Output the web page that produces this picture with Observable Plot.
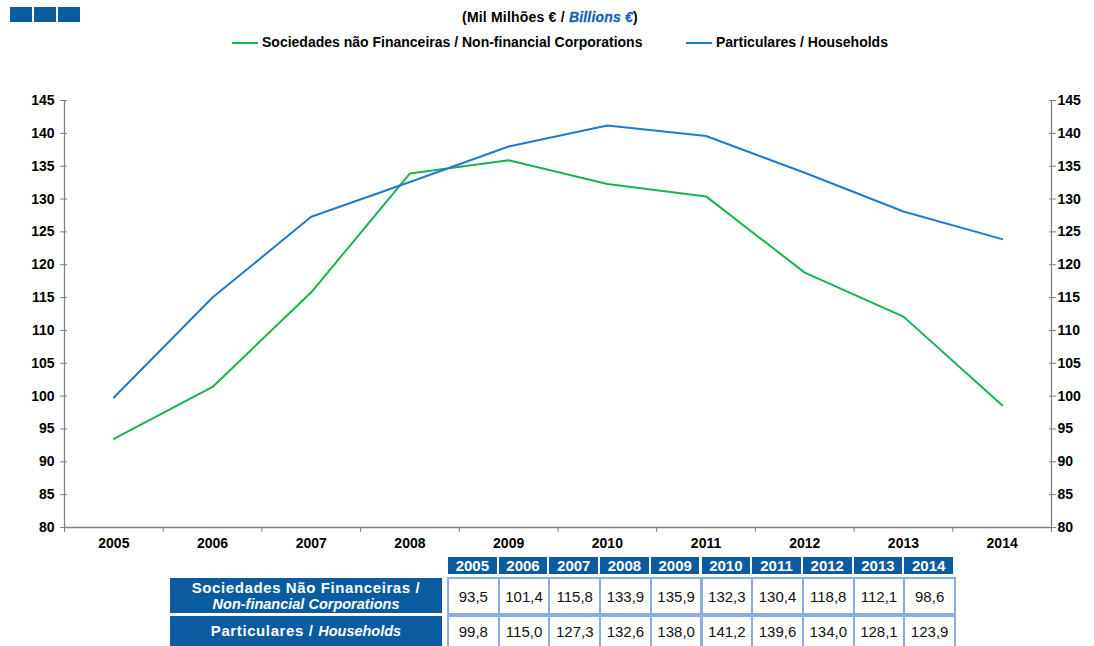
<!DOCTYPE html>
<html><head><meta charset="utf-8">
<script src="https://cdn.jsdelivr.net/npm/d3@7"></script>
<script src="https://cdn.jsdelivr.net/npm/@observablehq/plot@0.6"></script>
<style>
body{margin:0;background:#fff;font-family:"Liberation Sans",Arial,sans-serif;}
#wrap{position:relative;width:1094px;height:646px;overflow:hidden;}
.abs{position:absolute;}
.sq{position:absolute;top:7px;width:22px;height:15px;background:#0b5ba0;}
#title{left:0;width:1100px;top:9px;text-align:center;font-weight:bold;font-size:14px;letter-spacing:0.2px;}
#title .bl{font-style:italic;color:#1763b0;-webkit-text-stroke:0.3px #1763b0;}
.leg{top:34px;font-weight:bold;font-size:14px;white-space:nowrap;}
.legline{position:absolute;top:42px;width:26px;height:2px;}
.cell{position:absolute;box-sizing:border-box;display:flex;align-items:center;justify-content:center;text-align:center;}
.hdr{background:#0b5ba0;color:#fff;font-weight:bold;font-size:15px;}
.lab{background:#0b5ba0;color:#fff;font-weight:bold;font-size:15px;line-height:17px;flex-direction:column;letter-spacing:0.6px;}
.dat{background:#fff;color:#111;font-size:15px;border:2px solid #8aafe0;}
</style></head>
<body><div id="wrap"></div>
<script>
const years = [2005, 2006, 2007, 2008, 2009, 2010, 2011, 2012, 2013, 2014];
const nfc = [93.5, 101.4, 115.8, 133.9, 135.9, 132.3, 130.4, 118.8, 112.1, 98.6];
const households = [99.8, 115.0, 127.3, 132.6, 138.0, 141.2, 139.6, 134.0, 128.1, 123.9];
const seriesNames = ["Sociedades não Financeiras / Non-financial Corporations", "Particulares / Households"];
const seriesColors = ["#17b34f", "#1f7bc9"];
const yTicks = [80, 85, 90, 95, 100, 105, 110, 115, 120, 125, 130, 135, 140, 145];
const tableLabels = [["Sociedades Não Financeiras /", "Non-financial Corporations"], ["Particulares / ", "Households"]];
const fmt = v => v.toFixed(1).replace(".", ",");

const wrap = document.getElementById("wrap");
const data = [];
years.forEach((y, i) => {
  data.push({year: y, value: nfc[i], series: seriesNames[0]});
  data.push({year: y, value: households[i], series: seriesNames[1]});
});
const edges = years.map(y => y - 0.5).concat([years[years.length - 1] + 0.5]);
const xDomain = [edges[0], edges[edges.length - 1]];
const yDomain = [yTicks[0], yTicks[yTicks.length - 1]];

const chart = Plot.plot({
  width: 1094, height: 552,
  marginLeft: 64, marginRight: 43, marginTop: 100, marginBottom: 25,
  style: {fontFamily: "Liberation Sans, Arial, sans-serif", fontSize: "14px", fontWeight: "bold", background: "transparent"},
  x: {type: "linear", domain: xDomain},
  y: {domain: yDomain},
  color: {domain: seriesNames, range: seriesColors},
  marks: [
    Plot.axisX({ticks: years, tickFormat: d => String(d), tickSize: 0, tickPadding: 11, fill: "#000", label: null}),
    Plot.axisX({ticks: edges, tickFormat: () => "", tickSize: 5, stroke: "#808080", label: null}),
    Plot.axisY({anchor: "left", ticks: yTicks, tickSize: 4, tickPadding: 6, stroke: "#808080", fill: "#000", label: null}),
    Plot.axisY({anchor: "left", ticks: yTicks, tickSize: -3, tickFormat: () => "", stroke: "#808080", label: null}),
    Plot.axisY({anchor: "right", ticks: yTicks, tickSize: 4, tickPadding: 2, stroke: "#808080", fill: "#000", label: null}),
    Plot.axisY({anchor: "right", ticks: yTicks, tickSize: -3, tickFormat: () => "", stroke: "#808080", label: null}),
    Plot.ruleY([yDomain[0]], {stroke: "#808080", strokeWidth: 1.3}),
    Plot.ruleX(xDomain, {stroke: "#808080", strokeWidth: 1.3}),
    Plot.line(data, {x: "year", y: "value", z: "series", stroke: "series", strokeWidth: 2})
  ]
});
chart.style.position = "absolute";
chart.style.left = "0px";
chart.style.top = "0px";
wrap.appendChild(chart);

// top-left squares
[10, 34, 58].forEach(l => {
  const d = document.createElement("div"); d.className = "sq"; d.style.left = l + "px"; wrap.appendChild(d);
});

// title
const t = document.createElement("div");
t.className = "abs"; t.id = "title";
t.innerHTML = '(Mil Milhões € / <span class="bl">Billions €</span>)';
wrap.appendChild(t);

// legend
const legPos = [[232, 262], [686, 716]];
seriesNames.forEach((n, i) => {
  const ln = document.createElement("div"); ln.className = "legline";
  ln.style.left = legPos[i][0] + "px"; ln.style.background = seriesColors[i]; wrap.appendChild(ln);
  const tx = document.createElement("div"); tx.className = "abs leg";
  tx.style.left = legPos[i][1] + "px"; tx.textContent = n; wrap.appendChild(tx);
});

// table
const colX0 = 448, colW = 50.7;
years.forEach((y, i) => {
  const c = document.createElement("div"); c.className = "cell hdr";
  Object.assign(c.style, {left: (colX0 + i * colW) + "px", top: "557px", width: (colW - 2) + "px", height: "17px"});
  c.textContent = y; wrap.appendChild(c);
});
const rows = [nfc, households];
const rowTop = [578, 616], rowH = [36, 31];
rows.forEach((vals, r) => {
  const l = document.createElement("div"); l.className = "cell lab";
  Object.assign(l.style, {left: "170px", top: rowTop[r] + "px", width: "272px", height: (rowH[r] - 1) + "px"});
  if (r === 0) l.innerHTML = `<div>${tableLabels[0][0]}</div><div style="font-style:italic;letter-spacing:0;font-size:14.5px">${tableLabels[0][1]}</div>`;
  else l.innerHTML = `<div>${tableLabels[1][0]}<i style="letter-spacing:0;font-size:14.5px">${tableLabels[1][1]}</i></div>`;
  wrap.appendChild(l);
  vals.forEach((v, i) => {
    const c = document.createElement("div"); c.className = "cell dat";
    Object.assign(c.style, {left: (colX0 - 1 + i * colW) + "px", top: (rowTop[r] - 1) + "px", width: (colW + 2) + "px", height: (rowH[r] + 2) + "px"});
    c.textContent = fmt(v); wrap.appendChild(c);
  });
});
</script></body></html>
